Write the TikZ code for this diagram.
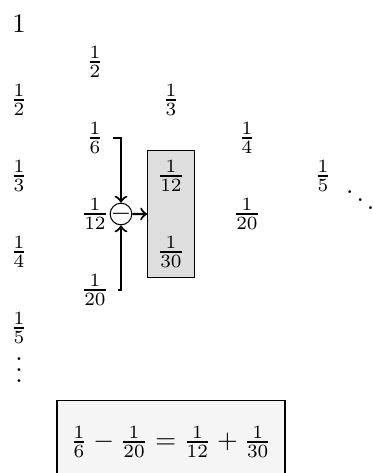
\documentclass[tikz,border=0pt]{standalone}
\usepackage{amssymb}
\usetikzlibrary{fit,backgrounds}

\begin{document}
\begin{tikzpicture}
    \useasboundingbox (-0.25,0.316) rectangle (4.645,-5.908);
    % first column of the triangle
    \node (one) at (0,0) {$1$};
    \node (left-half) at (0,-1) {$\frac{1}{2}$};
    \node (left-third) at (0,-2) {$\frac{1}{3}$};
    \node (left-quarter) at (0,-3) {$\frac{1}{4}$};
    \node (left-fifth) at (0,-4) {$\frac{1}{5}$};
    \node (left-dots) at (0,-4.45) {$\vdots$};
    % the other columns
    \node (half) at (1,-0.5) {$\frac{1}{2}$};
    \node (sixth) at (1,-1.5) {$\frac{1}{6}$};
    \node (twelfth) at (1,-2.5) {$\frac{1}{12}$};
    \node (twentieth) at (1,-3.5) {$\frac{1}{20}$};
    \node (third) at (2,-1) {$\frac{1}{3}$};
    \node (box-twelfth) at (2,-2) {$\frac{1}{12}$};
    \node (box-thirtieth) at (2,-3) {$\frac{1}{30}$};
    \node (quarter) at (3,-1.5) {$\frac{1}{4}$};
    \node (right-twentieth) at (3,-2.5) {$\frac{1}{20}$};
    \node (fifth) at (4,-2) {$\frac{1}{5}$};
    \node (diag-dots) at (4.49,-2.21) {$\ddots$};

    \node[circle, draw, inner sep=0, minimum size=8.1pt] (minus) at (1.342,-2.5) {\makebox[0pt]{$-$}};
    \begin{scope}[on background layer]
      \node[draw, fill=black!13, inner sep=0, fit=(box-twelfth) (box-thirtieth)] (sum-box) {};
    \end{scope}
    \draw[->,thick] (sixth.east) -| (minus);
    \draw[->,thick] (twentieth.east) -| (minus);
    \draw[->,thick] (minus) -- (sum-box);

    \node[draw, fill=black!4, minimum width=3cm, minimum height=1.08cm] (identity) at (2,-5.5) {$\frac{1}{6}-\frac{1}{20}=\frac{1}{12}+\frac{1}{30}$};
\end{tikzpicture}
\end{document}
